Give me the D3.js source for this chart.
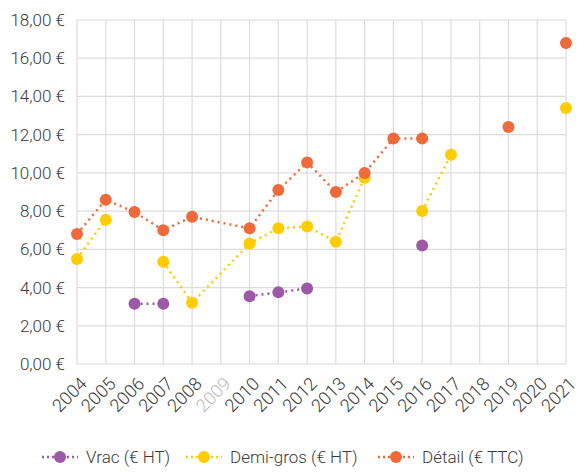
<!DOCTYPE html>
<html>
<head>
<meta charset="utf-8">
<script src="https://cdn.jsdelivr.net/npm/d3@7"></script>
<style>
  body { margin: 0; background: #fff; }
  svg { display: block; }
  text { font-family: Roboto, "Open Sans", sans-serif; font-weight: 300; fill: #3a3a3a; }
</style>
</head>
<body>
<svg id="chart" width="584" height="472"></svg>
<script>
var margin = {top: 20, right: 18, bottom: 108, left: 77},
    width = 584 - margin.left - margin.right,
    height = 472 - margin.top - margin.bottom;

// data
years = ["2004","2005","2006","2007","2008","2009","2010","2011","2012","2013",
         "2014","2015","2016","2017","2018","2019","2020","2021"]
mutedYears = ["2009"]

vrac     = [null,null,3.15,3.15,null,null,3.55,3.75,3.95,null,null,null,6.2,null,null,null,null,null]
demiGros = [5.5,7.55,null,5.35,3.2,null,6.3,7.1,7.2,6.4,9.75,null,8.0,10.95,null,null,null,13.4]
detail   = [6.8,8.6,7.95,7.0,7.7,null,7.1,9.1,10.55,9.0,10.0,11.8,11.8,null,null,12.4,null,16.8]

yTicks = [0,2,4,6,8,10,12,14,16,18]

series = [
  {name: "Vrac (€ HT)", values: vrac, color: "#9b59a6"},
  {name: "Demi-gros (€ HT)", values: demiGros, color: "#ffcc00"},
  {name: "Détail (€ TTC)", values: detail, color: "#ee6a3a"}
]

let svg = d3.select("#chart");
let g = svg.append("g")
  .attr("transform", "translate(" + margin.left + "," + margin.top + ")");

const x = d3.scalePoint().domain(years).range([0, width]);
const y = d3.scaleLinear().domain([0, 18]).range([height, 0]);

// grid
g.append("g")
  .selectAll("line")
  .data(yTicks)
  .enter().append("line")
    .attr("x1", 0).attr("x2", width)
    .attr("y1", d => y(d)).attr("y2", d => y(d))
    .attr("stroke", "#dcdcdc").attr("stroke-width", 1.2);

g.append("g")
  .selectAll("line")
  .data(years)
  .enter().append("line")
    .attr("x1", d => x(d)).attr("x2", d => x(d))
    .attr("y1", 0).attr("y2", height)
    .attr("stroke", "#dcdcdc").attr("stroke-width", 1.2);

// y labels
const fmt = d => d3.format(".2f")(d).replace(".", ",") + " €";
g.append("g")
  .selectAll("text")
  .data(yTicks)
  .enter().append("text")
    .attr("x", -12)
    .attr("y", d => y(d) + 6)
    .attr("text-anchor", "end")
    .style("font-size", "17px")
    .text(fmt);

// x labels
g.append("g")
  .selectAll("text")
  .data(years)
  .enter().append("text")
    .attr("transform", d => `translate(${x(d) + 11},${height + 21}) rotate(-45)`)
    .attr("text-anchor", "end")
    .style("font-size", "18px")
    .style("fill", d => mutedYears.includes(d) ? "#bbb" : "#3a3a3a")
    .text(d => d);

// lines (muted years are skipped, other gaps break the line)
const line = d3.line()
  .defined(d => d.v != null)
  .x(d => x(d.year))
  .y(d => y(d.v));

series.forEach(s => {
  const pts = years.map((yr, i) => ({year: yr, v: s.values[i]}));
  g.append("path")
    .datum(pts.filter(d => !mutedYears.includes(d.year)))
    .attr("d", line)
    .attr("fill", "none")
    .attr("stroke", s.color)
    .attr("stroke-width", 2.5)
    .attr("stroke-dasharray", "2,4");

  g.append("g")
    .selectAll("circle")
    .data(pts.filter(d => d.v != null))
    .enter().append("circle")
      .attr("cx", d => x(d.year))
      .attr("cy", d => y(d.v))
      .attr("r", 6)
      .attr("fill", s.color);
});

// legend
const legendX = [42, 186, 378];
const legend = svg.append("g").attr("transform", "translate(0,457)");
series.forEach((s, i) => {
  const lg = legend.append("g").attr("transform", `translate(${legendX[i]},0)`);
  lg.append("line")
    .attr("x1", 0).attr("x2", 36)
    .attr("y1", 0).attr("y2", 0)
    .attr("stroke", s.color)
    .attr("stroke-width", 2.5)
    .attr("stroke-dasharray", "2,3");
  lg.append("circle")
    .attr("cx", 18).attr("cy", 0).attr("r", 6)
    .attr("fill", s.color);
  lg.append("text")
    .attr("x", 44).attr("y", 6)
    .style("font-size", "17px")
    .text(s.name);
});
</script>
</body>
</html>
